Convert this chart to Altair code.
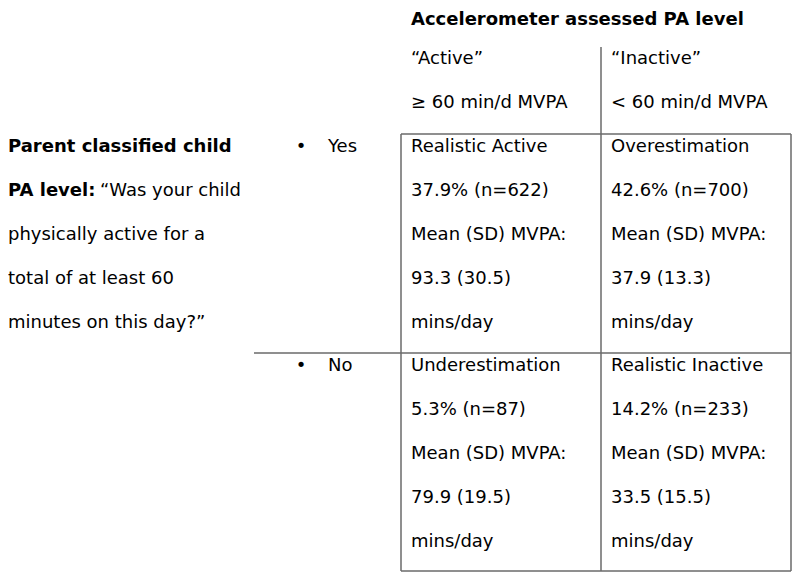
import altair as alt
import pandas as pd

# ---- data ----
header = "Accelerometer assessed PA level"
acc_levels = ["\u201cActive\u201d", "\u201cInactive\u201d"]
acc_thresholds = ["\u2265 60 min/d MVPA", "< 60 min/d  MVPA"]
parent_answers = ["Yes", "No"]
categories = [["Realistic Active", "Overestimation"],
              ["Underestimation", "Realistic Inactive"]]
pct = [[37.9, 42.6], [5.3, 14.2]]
n_obs = [[622, 700], [87, 233]]
mean_mvpa = [[93.3, 37.9], [79.9, 33.5]]
sd_mvpa = [[30.5, 13.3], [19.5, 15.5]]
left_bold = ["Parent classified child", "PA level:"]
left_plain = ["\u201cWas your child", "physically active for a",
              "total of at least 60", "minutes on this day?\u201d"]

# ---- layout (reference pixel coordinates) ----
FONT = "DejaVu Sans"
FS = 18
col_x = [411, 611]
row_y = [147, 366]
line_gap = 44

rows = []
def add(x, y, t, bold=False, al="left"):
    rows.append({"x": x, "y": y, "t": t, "bold": bold, "al": al})

add(411, 20, header, True)
for j in range(2):
    add(col_x[j], 59, acc_levels[j])
    add(col_x[j], 103, acc_thresholds[j])
for i in range(2):
    add(301, row_y[i], "\u2022", al="center")
    add(328, row_y[i], parent_answers[i])
    for j in range(2):
        lines = [categories[i][j],
                 f"{pct[i][j]}% (n={n_obs[i][j]})",
                 "Mean (SD) MVPA:",
                 f"{mean_mvpa[i][j]} ({sd_mvpa[i][j]})",
                 "mins/day"]
        for k, ln in enumerate(lines):
            add(col_x[j], row_y[i] + k * line_gap, ln)
add(8, 147, left_bold[0], True)
add(8, 191, left_bold[1], True)
add(100, 191, left_plain[0])
for k, ln in enumerate(left_plain[1:]):
    add(8, 235 + k * line_gap, ln)
df = pd.DataFrame(rows)

segs = pd.DataFrame([
    {"x": 601, "x2": 601, "y": 47, "y2": 571},
    {"x": 401, "x2": 401, "y": 134, "y2": 571},
    {"x": 791, "x2": 791, "y": 134, "y2": 571},
    {"x": 401, "x2": 791, "y": 134, "y2": 134},
    {"x": 401, "x2": 791, "y": 571, "y2": 571},
    {"x": 254, "x2": 791, "y": 353, "y2": 353},
])

xs = alt.Scale(domain=[8, 792], range=[0, 784])
ys = alt.Scale(domain=[8, 572], range=[0, 564])

X = alt.X("x:Q", scale=xs, axis=None)
Y = alt.Y("y:Q", scale=ys, axis=None)

rules = alt.Chart(segs).mark_rule(color="#6a6a6a", strokeWidth=1.5).encode(
    x=X, x2="x2:Q", y=Y, y2="y2:Q")

normal = alt.Chart(df[(~df["bold"]) & (df["al"] == "left")]).mark_text(
    font=FONT, fontSize=FS, align="left", baseline="middle", color="#000000"
).encode(x=X, y=Y, text="t:N")
bold = alt.Chart(df[df["bold"]]).mark_text(
    font=FONT, fontSize=FS, fontWeight="bold", align="left", baseline="middle", color="#000000"
).encode(x=X, y=Y, text="t:N")
center = alt.Chart(df[df["al"] == "center"]).mark_text(
    font=FONT, fontSize=FS, align="center", baseline="middle", color="#000000"
).encode(x=X, y=Y, text="t:N")

chart = alt.layer(rules, normal, bold, center).properties(
    width=784, height=564, padding=0, background="white",
    autosize=alt.AutoSizeParams(type="fit", contains="padding"),
).configure_view(stroke=None)

chart.save("out.html", embed_options={"renderer": "svg", "actions": False})
